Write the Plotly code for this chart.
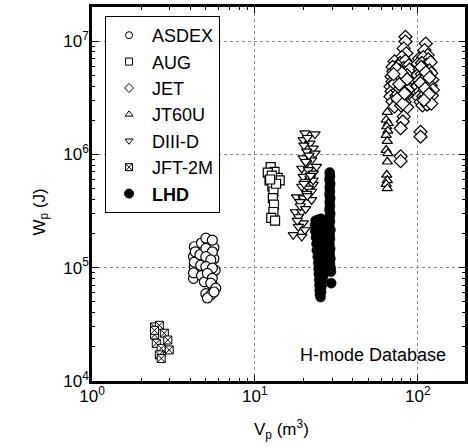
import plotly.graph_objects as go

# ---------------- data ----------------
asdex_x = [4.25, 4.2, 4.25, 4.2, 4.3, 4.25, 4.2, 4.7, 4.6, 4.65, 4.7, 5.2, 5.2, 5.25,
           5.6, 5.6, 5.7, 5.3, 4.9, 5.5, 5.0, 5.48, 5.0, 5.48, 5.0, 5.36, 5.0, 5.48,
           5.11, 5.48, 5.36, 5.75, 5.0, 5.36, 5.11, 5.61]
asdex_y = [1.53e5, 1.25e5, 1.02e5, 8.05e4, 1.38e5, 1.12e5, 9.0e4, 1.65e5, 1.3e5, 1.05e5,
           8.5e4, 1.6e5, 1.3e5, 1.08e5, 1.5e5, 1.2e5, 9.5e4, 9.5e4, 7.5e4, 7.0e4, 1.82e5,
           1.75e5, 1.48e5, 1.38e5, 1.25e5, 1.17e5, 1.02e5, 9.9e4, 8.9e4, 8.05e4, 7.3e4,
           6.6e4, 5.9e4, 5.75e4, 5.4e4, 6.1e4]

aug_x = [12.5, 13.2, 12.0, 13.8, 14.2, 12.3, 12.8, 13.0, 12.9, 13.1, 13.0, 12.6, 13.3,
         12.7, 13.5, 12.4]
aug_y = [7.7e5, 7.0e5, 6.9e5, 6.2e5, 5.9e5, 5.9e5, 5.2e5, 4.7e5, 4.1e5, 3.6e5, 3.1e5,
         2.75e5, 2.6e5, 6.5e5, 5.5e5, 6.0e5]

jet_x = [84, 84, 82, 85, 80,
         72, 78, 84, 70, 76, 82, 88, 71, 77, 83, 89, 69, 74, 80, 86, 70, 76, 82, 88,
         68, 73, 79, 85, 69, 75, 81, 87, 68, 74, 80, 86, 70, 76, 83, 72, 79, 86,
         74, 80, 86, 72, 78, 84, 75, 81, 71, 77, 83,
         82, 81, 78.5, 78.5, 78.5,
         112, 110, 115,
         102, 108, 116, 100, 106, 113, 120, 103, 110, 118, 100, 106, 113, 121,
         102, 109, 116, 123, 100, 106, 113, 120, 103, 110, 117, 124, 101, 108, 115, 122,
         104, 111, 119, 107, 114, 121, 105, 112, 118, 104, 111, 117, 109, 104, 104]
jet_y = [1.09e7, 9.9e6, 8.6e6, 7.8e6, 7.2e6,
         6.6e6, 6.4e6, 6.7e6, 5.9e6, 6.0e6, 5.8e6, 6.1e6, 5.4e6, 5.5e6, 5.3e6, 5.6e6,
         4.85e6, 4.9e6, 4.8e6, 5.0e6, 4.4e6, 4.5e6, 4.3e6, 4.45e6, 3.96e6, 4.0e6, 3.9e6,
         4.05e6, 3.6e6, 3.65e6, 3.55e6, 3.7e6, 3.23e6, 3.3e6, 3.2e6, 3.35e6, 2.92e6,
         2.95e6, 2.9e6, 2.64e6, 2.7e6, 2.6e6,
         5.7e6, 5.2e6, 4.6e6, 4.2e6, 3.8e6, 3.4e6, 3.1e6, 2.8e6, 5.1e6, 4.15e6, 3.45e6,
         2.15e6, 1.95e6, 1.7e6, 9.6e5, 8.7e5,
         9.5e6, 8.3e6, 7.5e6,
         7.0e6, 7.2e6, 6.9e6, 6.3e6, 6.4e6, 6.2e6, 6.5e6, 5.6e6, 5.7e6, 5.5e6, 5.0e6,
         5.1e6, 4.9e6, 5.2e6, 4.5e6, 4.6e6, 4.4e6, 4.55e6, 4.0e6, 4.1e6, 3.95e6, 4.05e6,
         3.6e6, 3.65e6, 3.55e6, 3.7e6, 3.2e6, 3.25e6, 3.15e6, 3.3e6, 2.9e6, 2.95e6,
         2.85e6, 2.7e6, 2.75e6, 2.8e6, 5.9e6, 5.3e6, 4.75e6, 4.25e6, 3.8e6, 3.4e6, 3.0e6,
         1.58e6, 1.43e6]

jt60u_x = [65, 64, 66, 64.5, 65.5, 64, 65, 64, 65.5, 65, 64.5, 65, 64, 65]
jt60u_y = [2.36e6, 2.01e6, 1.88e6, 1.76e6, 1.61e6, 1.48e6, 1.31e6, 1.09e6, 1.02e6,
           8.6e5, 6.6e5, 5.9e5, 5.45e5, 5.0e5]

diiid_x = [20.3, 23.4, 19.8, 21.8, 22.8, 20.8, 23.4, 19.8, 22.3, 20.8, 23.9, 19.4, 21.3,
           22.8, 19.8, 21.8, 20.3, 22.8, 19.4, 21.3, 22.3, 18.0, 19.8, 22.3, 18.9, 17.7,
           19.4, 18.5, 19.8, 18.5, 17.2, 19.4, 20.3, 22.8, 20.8,
           21.0, 20.0, 21.5, 20.5, 22.0, 20.0, 21.0, 19.0, 18.2, 20.5]
diiid_y = [1.54e6, 1.51e6, 1.34e6, 1.25e6, 1.13e6, 1.06e6, 1.02e6, 9.25e5, 8.9e5, 8.35e5,
           7.8e5, 7.5e5, 7.3e5, 6.8e5, 6.35e5, 6.15e5, 5.7e5, 5.4e5, 5.2e5, 5.0e5, 4.7e5,
           4.2e5, 4.1e5, 3.96e5, 3.8e5, 3.1e5, 3.1e5, 2.8e5, 2.47e5, 2.3e5, 1.95e5,
           1.88e5, 2.15e5, 5.9e5, 4.5e5,
           1.4e6, 1.2e6, 9.8e5, 8.6e5, 6.5e5, 5.5e5, 4.3e5, 3.5e5, 2.6e5, 3.3e5]

jft2m_x = [2.42, 2.59, 2.42, 2.78, 2.92, 2.48, 2.66, 2.98, 2.59, 2.66, 2.42]
jft2m_y = [3.0e4, 3.1e4, 2.55e4, 2.64e4, 2.3e4, 2.15e4, 1.94e4, 1.88e4, 1.7e4, 1.58e4, 2.8e4]

lhd_x = [28.8, 28.9, 28.7, 29.0, 28.8, 28.9, 28.7, 29.0, 28.8, 28.9, 28.7, 29.0, 28.8,
         28.9, 28.6, 29.1, 28.8, 28.9, 28.7, 29.0, 28.8, 29.1, 28.9, 29.2, 29.3, 29.4,
         23.6, 24.5, 25.5, 26.5, 27.5, 23.4, 24.4, 25.4, 26.4, 27.4,
         23.5, 24.5, 25.5, 26.5, 27.5, 23.7, 24.6, 25.6, 26.6, 27.6,
         23.9, 24.8, 25.8, 26.8, 27.8, 24.0, 25.0, 26.0, 27.0, 28.0,
         24.3, 25.2, 26.2, 27.3,
         24.5, 25.3, 26.2, 27.2, 24.6, 25.4, 26.3, 24.7, 25.5, 26.2,
         24.8, 25.6, 24.9, 25.6, 25.0, 25.5, 25.1, 25.3]
lhd_y = [6.9e5, 6.4e5, 6.0e5, 5.5e5, 5.1e5, 4.7e5, 4.4e5, 4.1e5, 3.8e5, 3.5e5, 3.25e5,
         3.0e5, 2.8e5, 2.55e5, 2.35e5, 2.15e5, 1.95e5, 1.8e5, 1.62e5, 1.47e5, 1.33e5,
         1.2e5, 1.08e5, 9.9e4, 9.2e4, 7.3e4,
         2.6e5, 2.65e5, 2.7e5, 2.6e5, 2.55e5, 2.35e5, 2.4e5, 2.3e5, 2.35e5, 2.3e5,
         2.1e5, 2.15e5, 2.05e5, 2.1e5, 2.0e5, 1.85e5, 1.9e5, 1.8e5, 1.85e5, 1.75e5,
         1.62e5, 1.65e5, 1.58e5, 1.6e5, 1.55e5, 1.42e5, 1.45e5, 1.4e5, 1.38e5, 1.35e5,
         1.25e5, 1.28e5, 1.22e5, 1.2e5,
         1.1e5, 1.12e5, 1.08e5, 1.05e5, 9.8e4, 9.6e4, 9.4e4, 8.8e4, 8.5e4, 8.3e4,
         7.8e4, 7.6e4, 7.0e4, 6.8e4, 6.3e4, 6.1e4, 5.8e4, 5.5e4]

x_tickvals = [1, 10, 100]
x_ticktext = ["10<sup>0</sup>", "10<sup>1</sup>", "10<sup>2</sup>"]
y_tickvals = [1e4, 1e5, 1e6, 1e7]
y_ticktext = ["10<sup>4</sup>", "10<sup>5</sup>", "10<sup>6</sup>", "10<sup>7</sup>"]
x_minor = [2, 3, 4, 5, 6, 7, 8, 9, 20, 30, 40, 50, 60, 70, 80, 90, 200]
y_minor = [m * d for d in (1e4, 1e5, 1e6) for m in (2, 3, 4, 5, 6, 7, 8, 9)]

# ---------------- figure ----------------
FONT = "Liberation Sans, Arial, sans-serif"
fig = go.Figure()

def add(name, xs, ys, symbol, size, fill="white", lw=1.2, leg_size=7):
    fig.add_trace(go.Scatter(
        x=xs, y=ys, mode="markers", name=name, legendgroup=name, showlegend=False,
        marker=dict(symbol=symbol, size=size, color=fill,
                    line=dict(color="black", width=lw)),
    ))
    # legend entry (smaller symbol, as in the original legend)
    fig.add_trace(go.Scatter(
        x=[None], y=[None], mode="markers", name=name, legendgroup=name,
        marker=dict(symbol=symbol, size=leg_size, color=fill,
                    line=dict(color="black", width=1)),
    ))

add("ASDEX", asdex_x, asdex_y, "circle", 10)
add("AUG", aug_x, aug_y, "square", 9)
add("JET", jet_x, jet_y, "diamond", 10)
add("JT60U", jt60u_x, jt60u_y, "triangle-up", 9)
add("DIII-D", diiid_x, diiid_y, "triangle-down", 9)
add("JFT-2M", jft2m_x, jft2m_y, "square-x", 8, lw=1.0)
add("<b>LHD</b>", lhd_x, lhd_y, "circle", 10, fill="black", lw=0.5, leg_size=9)

axis_common = dict(
    type="log", showline=True, linecolor="black", linewidth=2.5, mirror="ticks",
    ticks="inside", ticklen=6, tickwidth=1.3, tickcolor="black",
    tickmode="array", showgrid=True, gridcolor="#8a8a8a", griddash="dot", gridwidth=1,
    zeroline=False, tickfont=dict(family=FONT, size=17, color="black"),
)

fig.update_xaxes(**axis_common, range=[0, 2.29], tickvals=x_tickvals, ticktext=x_ticktext,
                 ticklabelstandoff=-2,
                 minor=dict(tickmode="array", tickvals=x_minor, ticks="inside", ticklen=3,
                            tickcolor="black", tickwidth=1, showgrid=False))
fig.update_yaxes(**axis_common, range=[4, 7.3], tickvals=y_tickvals, ticktext=y_ticktext,
                 ticklabelstandoff=-3,
                 minor=dict(tickmode="array", tickvals=y_minor, ticks="inside", ticklen=3,
                            tickcolor="black", tickwidth=1, showgrid=False))

fig.add_annotation(text="W<sub>p</sub> (J)", xref="paper", yref="paper",
                   x=-0.138, y=0.452, xanchor="center", yanchor="middle",
                   textangle=-90, showarrow=False,
                   font=dict(family=FONT, size=17, color="black"))
fig.add_annotation(text="V<sub>p</sub> (m<sup>3</sup>)", xref="paper", yref="paper",
                   x=0.508, y=-0.131, xanchor="center", yanchor="middle", showarrow=False,
                   font=dict(family=FONT, size=17, color="black"))
fig.add_annotation(text="H-mode Database", xref="paper", yref="paper",
                   x=0.753, y=0.0695, xanchor="center", yanchor="middle", showarrow=False,
                   font=dict(family=FONT, size=18, color="black"))

fig.update_layout(
    width=468, height=448,
    margin=dict(l=92, r=0, t=7, b=67),
    paper_bgcolor="white", plot_bgcolor="white",
    showlegend=True,
    legend=dict(x=0.035, y=0.976, xanchor="left", yanchor="top",
                bgcolor="white", bordercolor="black", borderwidth=1,
                font=dict(family=FONT, size=18, color="black"),
                tracegroupgap=0, itemwidth=36, traceorder="normal"),
)

fig.write_html("out.html")
